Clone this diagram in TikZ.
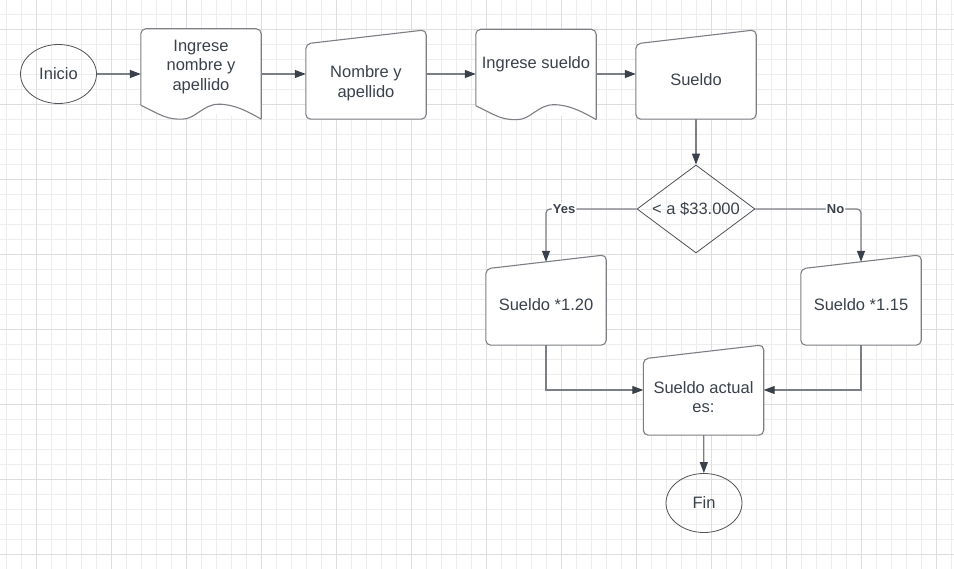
\documentclass[tikz,border=0pt]{standalone}
\usepackage{fontspec}
\setmainfont{Liberation Sans}
\usetikzlibrary{arrows.meta, positioning, shapes.geometric, calc}
\definecolor{gridminor}{HTML}{EDEDED}
\definecolor{gridmajor}{HTML}{DDDDDD}
\definecolor{edge}{HTML}{7B7E83}
\definecolor{thin}{HTML}{4F5358}
\definecolor{ink}{HTML}{3A414A}

% outline of a document box under a node, wave at the bottom
\newcommand\docline[1]{%
  \draw[shp, rounded corners=5pt] (#1.south west) -- (#1.north west) -- (#1.north east) -- ($(#1.south east)+(0,14)$);
  \draw[shp] ($(#1.south east)+(0,14)$)
    .. controls +(-12,-7) and +(16,0) .. ($(#1.south west)+(78,-1)$)
    .. controls +(-16,0) and +(14,0) .. ($(#1.south west)+(41,14)$)
    .. controls +(-15,0) and +(22,11) .. (#1.south west);}
% outline of a manual input box, sloped top
\newcommand\manline[1]{%
  \draw[shp, rounded corners=5pt] (#1.north west) -- ($(#1.north east)+(0,-14)$) -- (#1.south east) -- (#1.south west) -- cycle;
  \coordinate (#1-top) at ($(#1.north)+(0,-7)$);}

\begin{document}
\begin{tikzpicture}[x=1pt, y=-1pt,
  every node/.style={font=\fontsize{16.5}{19.5}\selectfont, text=ink},
  body/.style={minimum width=120pt, minimum height=76pt, inner sep=0pt, align=center},
  term/.style={draw=thin, line width=0.8pt, ellipse, minimum width=76pt, minimum height=59pt, inner sep=0pt},
  dec/.style={draw=thin, line width=0.8pt, diamond, aspect=1.34, minimum width=118pt, minimum height=88pt, inner sep=0pt},
  shp/.style={draw=edge, line width=1.1pt, fill=white},
  arr/.style={draw=edge, line width=1.2pt, -{Triangle[length=11pt, width=8pt, color=ink]}},
  lbl/.style={font=\fontsize{13}{15}\selectfont\bfseries, fill=white, inner sep=1pt}]

  \useasboundingbox (0,0) rectangle (954,569);
  \fill[white] (0,0) rectangle (954,569);
  \foreach \gx in {0,...,63} \draw[gridminor, line width=1pt] ({6.7+15*\gx},0) -- ++(0,569);
  \foreach \gy in {0,...,36} \draw[gridminor, line width=1pt] (0,{14.3+15*\gy}) -- ++(954,0);
  \foreach \gx in {0,...,12} \draw[gridmajor, line width=1pt] ({36.7+75*\gx},0) -- ++(0,569);
  \foreach \gy in {0,...,7} \draw[gridmajor, line width=1pt] (0,{29.3+75*\gy}) -- ++(954,0);

  \node[body] (d1) at (201,67) {};
  \node[body, minimum height=75pt] (m1) at (366,81.5) {};
  \node[body] (d2) at (536,67.5) {};
  \node[body, minimum height=75pt] (m2) at (696,81.5) {};
  \node[body] (s1) at (546,307) {};
  \node[body] (s2) at (861,307) {};
  \node[body] (s3) at (703.5,397) {};
  \docline{d1} \docline{d2}
  \manline{m1} \manline{m2} \manline{s1} \manline{s2} \manline{s3}

  \node[term] (ini) at (58.5,74) {Inicio};
  \node[align=center] at (d1) {Ingrese\\nombre y\\apellido};
  \node[align=center] at ([yshift=-1.5pt]m1.center) {Nombre y\\apellido};
  \node at ([yshift=3pt]d2.center) {Ingrese sueldo};
  \node at ([yshift=1.5pt]m2.center) {Sueldo};
  \node[dec] (dec) at (696,209) {< a \$33.000};
  \node at ([yshift=2pt]s1.center) {Sueldo *1.20};
  \node at ([yshift=2pt]s2.center) {Sueldo *1.15};
  \node[align=center] at (s3) {Sueldo actual\\es:};
  \node[term] (fin) at (704,503) {Fin};

  \draw[arr] (ini) -- (ini -| d1.west);
  \draw[arr] (d1.east |- ini) -- (m1.west |- ini);
  \draw[arr] (m1.east |- ini) -- (d2.west |- ini);
  \draw[arr] (d2.east |- ini) -- (m2.west |- ini);
  \draw[arr] (m2) -- (dec);
  \draw[arr, rounded corners=4pt] (dec.west) -| node[lbl, pos=0.4] {Yes} (s1-top);
  \draw[arr, rounded corners=4pt] (dec.east) -| node[lbl, pos=0.38] {No} (s2-top);
  \draw[arr] (s1) |- ([yshift=7pt]s3.west);
  \draw[arr] (s2) |- ([yshift=7pt]s3.east);
  \draw[arr] (s3) -- (fin);
\end{tikzpicture}
\end{document}
